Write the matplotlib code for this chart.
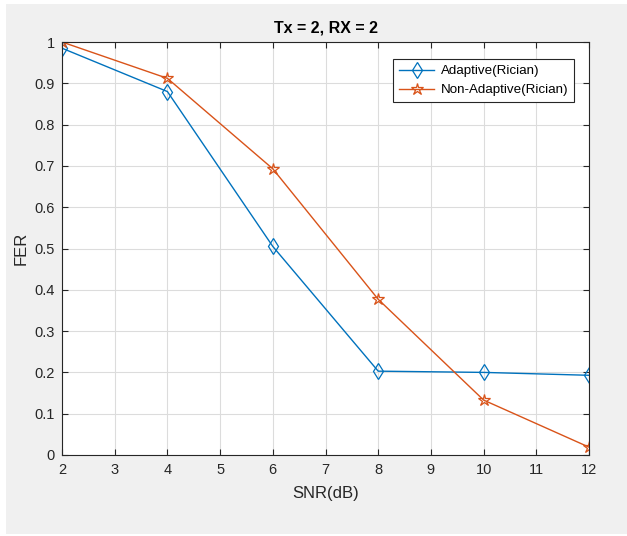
import matplotlib.pyplot as plt
from matplotlib.patches import Rectangle

plt.rcParams['font.family'] = ['Liberation Sans', 'DejaVu Sans']

snr = [2, 4, 6, 8, 10, 12]
fer_adaptive = [0.985, 0.88, 0.505, 0.203, 0.200, 0.193]
fer_nonadaptive = [1.0, 0.912, 0.693, 0.377, 0.133, 0.019]

fig = plt.figure(figsize=(6.27, 5.36), dpi=100, facecolor='white')
# matlab style gray figure background
fig.patches.append(Rectangle((6/627, 0.003), 1, (536-4)/536 - 0.003,
                             transform=fig.transFigure, facecolor='#f0f0f0',
                             edgecolor='none', zorder=-10))
ax = fig.add_axes([62/627, (536-455)/536, (589-62)/627, (455-42)/536])

ax.plot(snr, fer_adaptive, color='#0072BD', lw=1, marker='d', ms=8,
        mfc='none', mew=0.9, label='Adaptive(Rician)')
ax.plot(snr, fer_nonadaptive, color='#D95319', lw=1, marker='*', ms=9,
        mfc='none', mew=0.9, label='Non-Adaptive(Rician)')

ax.set_xlim(2, 12)
ax.set_ylim(0, 1)
ax.set_xticks(range(2, 13))
ax.set_yticks([i / 10 for i in range(11)])
ax.set_yticklabels(['0', '0.1', '0.2', '0.3', '0.4', '0.5', '0.6', '0.7',
                    '0.8', '0.9', '1'])
ax.grid(True, color='#dcdcdc', lw=0.8)
ax.tick_params(direction='in', length=4, labelsize=10.5, colors='#262626',
               top=True, right=True, pad=5)
ax.tick_params(axis='x', pad=6)
for s in ax.spines.values():
    s.set_color('#262626')
    s.set_linewidth(0.8)

ax.set_xlabel('SNR(dB)', fontsize=12, color='#262626', labelpad=6)
ax.set_ylabel('FER', fontsize=12, color='#262626')
ax.set_title('Tx = 2, RX = 2', fontsize=11.5, fontweight='bold', pad=7)

leg = ax.legend(loc='upper right', bbox_to_anchor=(0.985, 0.975), fontsize=9.6,
                fancybox=False, edgecolor='#262626', framealpha=1,
                handlelength=2.6, handletextpad=0.5, borderpad=0.45,
                labelspacing=0.5)
leg.get_frame().set_linewidth(0.8)

fig.savefig('out.png', dpi=100, facecolor=fig.get_facecolor())
